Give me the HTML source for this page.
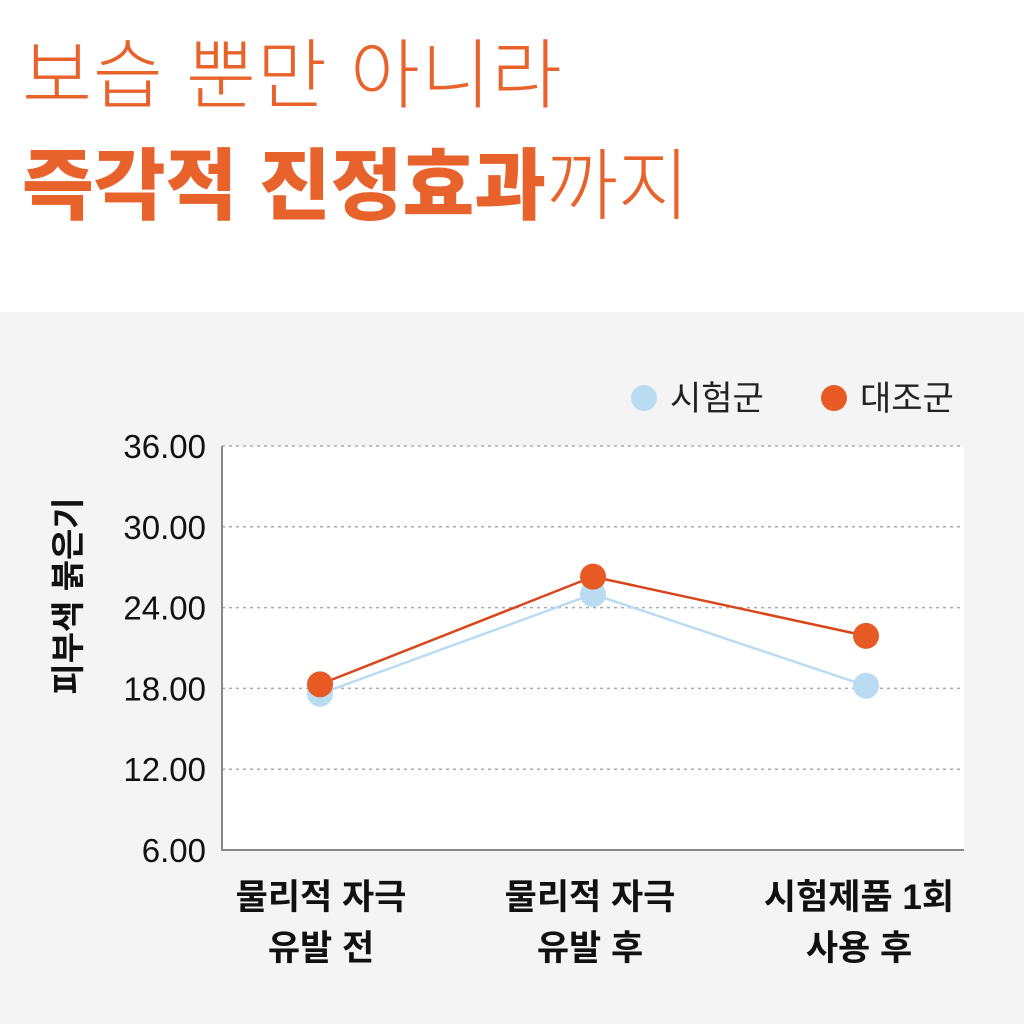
<!DOCTYPE html>
<html><head><meta charset="utf-8"><style>
body{margin:0;width:1024px;height:1024px;background:#fff;overflow:hidden;font-family:"Liberation Sans","Noto Sans CJK KR",sans-serif;}
.t{position:absolute;left:22px;color:#e8622c;white-space:nowrap;}
</style></head><body>
<div class="t" style="top:14px;font-size:76px;font-weight:300;letter-spacing:1px;">보습 뿐만 아니라</div>
<div class="t" style="top:124px;font-size:78px;"><b style="font-weight:900">즉각적 진정효과</b><span style="font-weight:300">까지</span></div>
<svg style="position:absolute;left:0;top:312px" width="1024" height="712">
<rect width="1024" height="712" fill="#f4f4f4"/>
<g id="g" transform="translate(0,-312)"></g>
</svg>
<script>
const categories=[["물리적 자극","유발 전"],["물리적 자극","유발 후"],["시험제품 1회","사용 후"]];
const testGroup=[17.6,25.0,18.2];
const controlGroup=[18.3,26.3,21.9];
const yTicks=[6,12,18,24,30,36];
const yLabels=["6.00","12.00","18.00","24.00","30.00","36.00"];
const NS="http://www.w3.org/2000/svg";
const g=document.getElementById('g');
const X0=222,X1=964,Y0=850,Y1=446;
const y=v=>Y0-(v-6)/30*(Y0-Y1);
const x=i=>320+i*273;
function el(t,a,p){const e=document.createElementNS(NS,t);for(const k in a)e.setAttribute(k,a[k]);(p||g).appendChild(e);return e;}
let r=el('rect',{x:X0,y:Y1,width:X1-X0,height:Y0-Y1,fill:'#fff'});


yTicks.forEach((v,i)=>{
 if(v>6){let l=el('line',{x1:X0,x2:X1,y1:y(v),y2:y(v),stroke:'#aaa','stroke-width':1.5,'stroke-dasharray':'3 4'});
 
 }
 let t=el('text',{x:206,y:y(v)+12,'text-anchor':'end','font-size':33,fill:'#111'});t.textContent=yLabels[i];
 
 
});
let ax=el('path',{d:`M${X0} ${Y1}V${Y0}H${X1}`,fill:'none',stroke:'#888','stroke-width':2});


categories.forEach((c,i)=>{c.forEach((s,j)=>{let t=el('text',{x:x(i)+1-i*4,y:909+j*51,'text-anchor':'middle','font-size':35,'font-weight':'bold',fill:'#111'});t.textContent=s;
 
 });});
let yt=el('text',{transform:'translate(80,596) rotate(-90)','text-anchor':'middle','font-size':34,'font-weight':'bold',fill:'#111'});yt.textContent='피부색 붉은기';


function series(d,col,lc,name){
 let p=el('polyline',{points:d.map((v,i)=>x(i)+','+y(v)).join(' '),fill:'none',stroke:lc,'stroke-width':2.5});
 
 
 d.forEach((v,i)=>{let c=el('circle',{cx:x(i),cy:y(v),r:13,fill:col});
 
 });
}
series(testGroup,'#b9dcf2','#b9dcf2','test-group');
series(controlGroup,'#e85a24','#d9461b','control-group');
[['시험군','#b9dcf2',644],['대조군','#e85a24',834]].forEach(([n,c,lx])=>{
 let gg=el('g',{});
 el('circle',{cx:lx,cy:398,r:13,fill:c},gg);
 let t=el('text',{x:lx+26,y:410,'font-size':34,fill:'#222'},gg);t.textContent=n;
});
</script>
</body></html>
